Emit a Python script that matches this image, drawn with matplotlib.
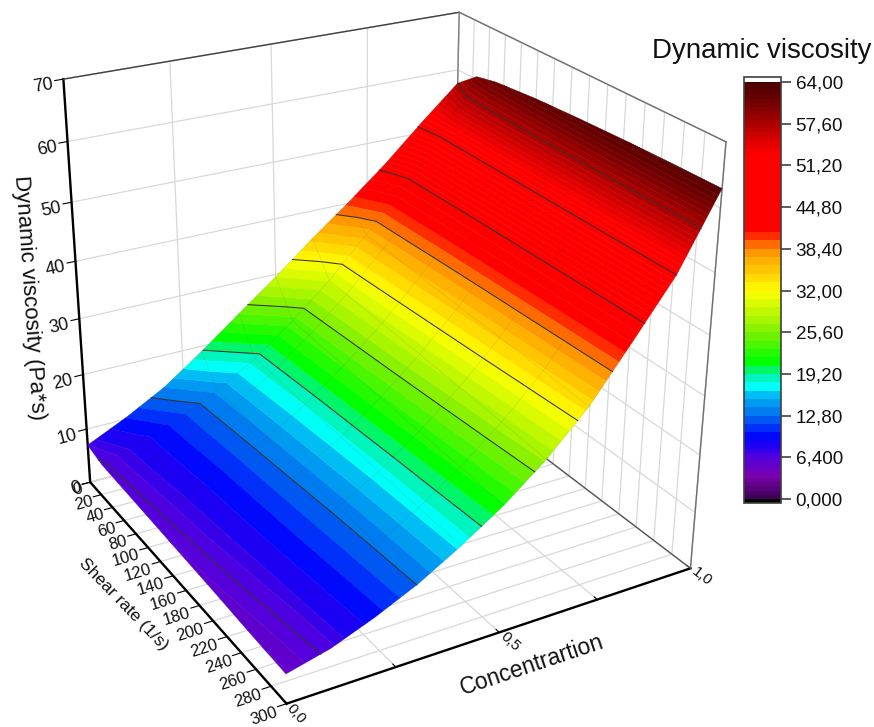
import numpy as np
import matplotlib
matplotlib.use("Agg")
import matplotlib.pyplot as plt
from matplotlib.colors import LinearSegmentedColormap, ListedColormap, BoundaryNorm
from matplotlib.cm import ScalarMappable
from mpl_toolkits.mplot3d.art3d import Poly3DCollection

plt.rcParams['font.family'] = ['Liberation Sans', 'DejaVu Sans']

# data
concentration = [0, 0.1, 0.2, 0.3, 0.4, 0.5, 0.6, 0.7, 0.8, 0.9, 1.0]
shear_rate = [0, 25, 50, 100, 150, 200, 250, 300]
viscosity = [
    [7.0, 10.3, 14.1, 19.0, 24.3, 29.5, 35.0, 40.2, 45.7, 51.8, 57.6],
    [6.2, 8.3, 11.0, 14.4, 18.6, 23.8, 29.6, 36.4, 43.6, 51.2, 60.5],
    [6.1, 8.2, 10.9, 14.2, 18.4, 23.6, 29.4, 36.2, 43.5, 51.2, 61.3],
    [5.9, 7.9, 10.6, 13.9, 18.0, 23.2, 29.0, 35.7, 43.2, 51.2, 62.0],
    [5.7, 7.7, 10.4, 13.6, 17.7, 22.8, 28.6, 35.2, 43.0, 51.2, 62.4],
    [5.5, 7.4, 10.2, 13.3, 17.4, 22.4, 28.1, 34.8, 42.8, 51.2, 62.7],
    [5.2, 7.1, 9.9, 13.1, 17.2, 22.0, 27.6, 34.3, 42.6, 51.2, 62.9],
    [5.0, 6.8, 9.6, 12.9, 17.0, 21.6, 27.1, 33.8, 42.4, 51.2, 63.0],
]
conc_ticks = [0, 0.25, 0.5, 0.75, 1.0]
conc_labels = ['0,0', '', '0,5', '', '1,0']
shear_ticks = list(range(0, 301, 20))
visc_ticks = list(range(0, 71, 10))
bar_ticks = [0, 6.4, 12.8, 19.2, 25.6, 32, 38.4, 44.8, 51.2, 57.6, 64]
bar_labels = ['0,000', '6,400', '12,80', '19,20', '25,60', '32,00', '38,40', '44,80', '51,20', '57,60', '64,00']

# colour anchors of the legend
anchor_vals = [0, 1, 3.5, 6.4, 9.3, 12.8, 15.5, 17.2, 19.2, 21, 25.6, 32, 35, 38.4, 41.3, 53, 57.6, 60.5, 64]
anchor_cols = ['#3a0050', '#500070', '#7a00b0', '#5000e0', '#0000ff', '#0070f0', '#00b0f0', '#00ffff',
               '#00f0a0', '#00ff00', '#80f000', '#ffff00', '#ffc800', '#ff9000', '#ff0000', '#ff0000', '#b00000',
               '#780000', '#4a0000']

conc = np.array(concentration)
shear = np.array(shear_rate, float)
visc = np.array(viscosity)

# narrower bands at both ends, the legend looks smooth there
levels = np.r_[np.arange(0, 7.68, 0.64), np.arange(7.68, 44.8, 1.28), np.arange(44.8, 64.01, 0.64)]
line_levels = bar_ticks[1:-1]
base = LinearSegmentedColormap.from_list('visc', [(v / 64, c) for v, c in zip(anchor_vals, anchor_cols)])
cmap = ListedColormap(base((levels[:-1] + levels[1:]) / 2 / 64))
cmap.set_under('black')
cmap.set_over('white')
norm = BoundaryNorm(levels, cmap.N)


def height(c, s):
    # height of the surface inside one grid cell
    i = np.clip(np.searchsorted(conc, c, side='right') - 1, 0, len(conc) - 2)
    j = np.clip(np.searchsorted(shear, s, side='right') - 1, 0, len(shear) - 2)
    t = (c - conc[i]) / (conc[i + 1] - conc[i])
    u = (s - shear[j]) / (shear[j + 1] - shear[j])
    return (visc[j, i] * (1 - t) * (1 - u) + visc[j, i + 1] * t * (1 - u)
            + visc[j + 1, i] * (1 - t) * u + visc[j + 1, i + 1] * t * u)


# flat contours give the colour bands, which then get lifted on to the surface
tmp_fig, tmp_ax = plt.subplots()
bands = tmp_ax.contourf(conc, shear, visc, levels=levels)
lines = tmp_ax.contour(conc, shear, visc, levels=line_levels)
band_paths = bands.get_paths()
line_paths = lines.get_paths()
plt.close(tmp_fig)

W, H = 874, 727
fig = plt.figure(figsize=(W / 100, H / 100), dpi=100)
ax = fig.add_axes([-16.48 / W, 3.18 / H, 773.41 / W, 773.41 / H], projection='3d', computed_zorder=False)
ax.set_proj_type('persp', focal_length=np.exp(-0.7228))
ax.view_init(25.7231, -120.0965, -0.2853)
ax.set_box_aspect((1, 0.9988, 0.9961))

polys, face = [], []
for n, path in enumerate(band_paths):
    for poly in path.to_polygons(closed_only=True):
        if len(poly) < 3:
            continue
        zs = [height(p[0], p[1]) for p in poly]
        polys.append(np.column_stack([poly, zs]))
        face.append(cmap(n))
surf = Poly3DCollection(polys, facecolors=face, edgecolors=face, linewidths=0.3, zorder=2)
ax.add_collection3d(surf)

# faint mesh of the data grid
for c in concentration:
    ax.plot([c] * len(shear), shear, [height(c, s) for s in shear], color='#404040', alpha=0.1, lw=0.6, zorder=3)
for s in shear_rate:
    ax.plot(conc, [s] * len(conc), [height(c, s) for c in conc], color='#404040', alpha=0.1, lw=0.6, zorder=3)

for path in line_paths:
    for seg in path.to_polygons(closed_only=False):
        ax.plot(seg[:, 0], seg[:, 1], [height(p[0], p[1]) for p in seg], color='#303030', lw=0.75, zorder=4)

# box edges, grey on top of the grid
ax.plot([0, 1], [0, 0], [70, 70], color='#404040', lw=1.0, zorder=1)
ax.plot([1, 1], [0, 300], [70, 70], color='#707070', lw=1.0, zorder=1)
ax.plot([1, 1], [300, 300], [0, 70], color='#707070', lw=1.0, zorder=1)
ax.plot([1, 1], [0, 0], [0, 70], color='#808080', lw=1.0, zorder=1)
ax.plot([1, 1], [0, 300], [0, 0], color='#505050', lw=0.9, zorder=1)

ax.set_xlim(0, 1)
ax.set_ylim(300, 0)
ax.set_zlim(0, 70)

ax.set_xticks(conc_ticks)
ax.set_xticklabels([])
ax.set_yticks(shear_ticks)
ax.set_yticklabels([])
ax.set_zticks(visc_ticks)
ax.set_zticklabels([])
for axis in (ax.xaxis, ax.yaxis, ax.zaxis):
    axis.set_pane_color((1, 1, 1, 1))
    axis.pane.set_edgecolor('#d0d0d0')
    axis._axinfo['grid'].update(color='#d8d8d8', linewidth=0.9)
    axis._axinfo['tick'].update(inward_factor=0.25, outward_factor=0.0)
    axis.line.set_color('k')
    axis.line.set_linewidth(1.7)
# the y axis is flipped, so the x ticks need the other factor to point inwards
ax.xaxis._axinfo['tick'].update(inward_factor=0.0, outward_factor=0.15)
ax.tick_params(width=1.2, color='k')

M = ax.get_proj()


def to_2d(x, y, z):
    v = M @ np.array([x, y, z, 1.0])
    return v[0] / v[3], v[1] / v[3]


def put_label(x, y, z, text, along, **kw):
    # text at a 3d spot, turned along the direction of one axis
    x0, y0 = to_2d(x, y, z)
    x1, y1 = to_2d(x + along[0], y + along[1], z + along[2])
    angle = np.degrees(np.arctan2(y1 - y0, x1 - x0))
    ax.text2D(x0, y0, text, transform=ax.transData, rotation=angle, rotation_mode='anchor',
              va='center', color='#111111', clip_on=False, **kw)


for c, lab in zip(conc_ticks, conc_labels):
    if lab:
        put_label(c, 312, 0, lab, (0, 20, 0), fontsize=11, ha='center')
for s in shear_ticks:
    put_label(-0.022, s, -0.8, str(s), (0.2, 0, 0), fontsize=12, ha='right')
for z in visc_ticks:
    put_label(-0.025, 0, z - 0.5, str(z), (0.2, 0, 0), fontsize=13, ha='right')

fig.text(29.5 / W, 1 - 298 / H, 'Dynamic viscosity (Pa*s)', fontsize=16, rotation=-86, ha='center', va='center', color='#111111')
fig.text(123 / W, 1 - 604 / H, 'Shear rate (1/s)', fontsize=12.5, rotation=-46, ha='center', va='center', color='#111111')
fig.text(532 / W, 1 - 665 / H, 'Concentrartion', fontsize=16.5, rotation=18.5, ha='center', va='center', color='#111111')
fig.text(652 / W, 1 - 51 / H, 'Dynamic viscosity', fontsize=19.9, ha='left', va='center', color='#111111')

cax = fig.add_axes([744 / W, 1 - 503 / H, 37 / W, 426 / H])
cb = fig.colorbar(ScalarMappable(norm=norm, cmap=cmap), cax=cax, extend='both', extendrect=True,
                  extendfrac=(4 / 417, 5 / 417), spacing='proportional', ticks=bar_ticks)
cb.set_ticklabels(bar_labels)
cb.ax.tick_params(length=7.5, width=1.1, color='#303030', labelsize=13.6, pad=3, labelcolor='#111111')
cb.ax.minorticks_off()
cb.outline.set_edgecolor('#404040')
cb.outline.set_linewidth(1.2)

fig.savefig('out.png', dpi=100)
